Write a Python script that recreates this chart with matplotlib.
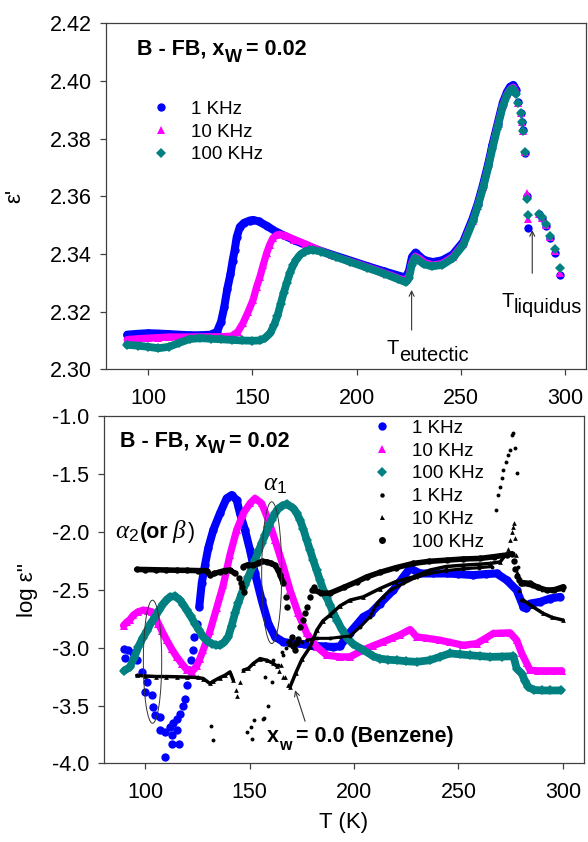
import matplotlib
matplotlib.use('Agg')
import matplotlib.pyplot as plt
from matplotlib.lines import Line2D
from matplotlib.patches import Ellipse
from matplotlib.transforms import IdentityTransform
from matplotlib.ticker import FormatStrFormatter

plt.rcParams['font.family'] = ['Liberation Sans', 'DejaVu Sans']
plt.rcParams['axes.unicode_minus'] = False
plt.rcParams['mathtext.fontset'] = 'custom'
plt.rcParams['mathtext.rm'] = 'Liberation Sans'
plt.rcParams['mathtext.it'] = 'Liberation Serif:italic'
plt.rcParams['mathtext.bf'] = 'Liberation Sans:bold'

BLUE, MAGENTA, TEAL, BLACK = '#0000FF', '#FF00FF', '#008080', '#000000'

# ---------------- top panel: epsilon' ----------------
top_1k_T = [90, 95, 100, 105, 110, 115, 120, 125, 130, 133, 135, 136.5, 138, 139.5, 140.5, 141.5, 142.5, 144, 146, 148.8,
            150.3, 153, 157, 161.6, 170, 179, 188, 197, 205, 213, 220, 223.3, 225, 226.5, 228.2, 230, 232.5, 236.5, 241,
            246, 251, 255.5, 258, 260.5, 263, 265, 267.5, 270, 272, 273.5, 275, 276.3]
top_1k_v = [2.3120, 2.3123, 2.3125, 2.3124, 2.3122, 2.3120, 2.3118, 2.3118, 2.3120, 2.3130, 2.3165, 2.3215, 2.3280, 2.3330,
            2.3375, 2.3413, 2.3459, 2.3494, 2.3508, 2.3516, 2.3518, 2.3513, 2.3497, 2.3476, 2.3448, 2.3420, 2.3398, 2.3377,
            2.3358, 2.3340, 2.3325, 2.3318, 2.3340, 2.3390, 2.3405, 2.3392, 2.3378, 2.3372, 2.3378, 2.3398, 2.3442, 2.3522,
            2.3575, 2.3640, 2.3712, 2.3778, 2.3852, 2.3925, 2.3962, 2.3980, 2.3986, 2.3970]
top_tail_T = [277.5, 278.6, 279.0, 279.5, 280.4, 281.5, 282.3, 287.1, 288.6, 290.7, 292.7, 295.2, 297.5]
top_1k_tail_v = [2.3927, 2.3890, 2.3858, 2.3829, 2.3750, 2.3600, 2.3489, 2.3540, 2.3525, 2.3498, 2.3455, 2.3405, 2.3326]

top_10k_T = [90, 95, 100, 105, 110, 115, 120, 125, 130, 135, 140, 143, 145.5, 148, 150.3, 152, 153.6, 155.2, 156.8, 158.3,
             159.8, 161.5, 163, 166, 170, 175, 180, 188, 197, 205, 213, 220, 223.4, 225, 226.4, 228, 230, 232.5, 236.5,
             241, 246, 251, 255.5, 258, 260.5, 263, 265, 267.5, 270, 272, 273.5, 275, 276.3]
top_10k_v = [2.3103, 2.3106, 2.3108, 2.3110, 2.3112, 2.3112, 2.3112, 2.3113, 2.3113, 2.3113, 2.3115, 2.3130, 2.3160, 2.3200,
             2.3240, 2.3285, 2.3320, 2.3362, 2.3402, 2.3432, 2.3455, 2.3465, 2.3468, 2.3463, 2.3450, 2.3436, 2.3420, 2.3395,
             2.3374, 2.3355, 2.3335, 2.3316, 2.3308, 2.3325, 2.3370, 2.3392, 2.3385, 2.3370, 2.3362, 2.3367, 2.3390, 2.3435,
             2.3514, 2.3568, 2.3632, 2.3704, 2.3770, 2.3845, 2.3917, 2.3955, 2.3972, 2.3978, 2.3962]
top_10k_tail_v = [2.3925, 2.3888, 2.3856, 2.3827, 2.3752, 2.3612, 2.3520, 2.3540, 2.3526, 2.3500, 2.3458, 2.3410, 2.3335]

top_100k_T = [90, 95, 100, 105, 110, 115, 120, 125, 130, 135, 140, 145, 150, 153.5, 156, 158.5, 160.5, 162, 163.5, 165,
              166.5, 168, 169.5, 171, 173, 175, 177, 179, 183, 190, 197, 205, 213, 220, 223.5, 225, 226.3, 227.8, 229.5,
              232, 236, 241, 246, 251, 255.5, 258, 260.5, 263, 265, 267.5, 270, 272, 273.5, 275, 276.3]
top_100k_v = [2.3085, 2.3082, 2.3078, 2.3073, 2.3078, 2.3092, 2.3105, 2.3108, 2.3106, 2.3104, 2.3102, 2.3100, 2.3099,
              2.3100, 2.3108, 2.3125, 2.3155, 2.3185, 2.3225, 2.3265, 2.3300, 2.3335, 2.3360, 2.3380, 2.3398, 2.3408,
              2.3413, 2.3414, 2.3408, 2.3390, 2.3372, 2.3352, 2.3332, 2.3312, 2.3302, 2.3315, 2.3360, 2.3385, 2.3380,
              2.3365, 2.3357, 2.3362, 2.3385, 2.3430, 2.3510, 2.3565, 2.3628, 2.3700, 2.3765, 2.3840, 2.3912, 2.3950,
              2.3968, 2.3972, 2.3955]
top_100k_tail_v = [2.3925, 2.3888, 2.3856, 2.3827, 2.3753, 2.3590, 2.3534, 2.3540, 2.3528, 2.3503, 2.3462, 2.3418, 2.3352]

# ---------------- bottom panel: log epsilon'' ----------------
bot_1k_sp_T = [89.7, 90.2, 91.8, 94.2, 95.8, 98.2, 99.8, 100.6, 103.0, 103.8, 104.6, 107.0, 107.0, 109.4, 109.4, 111.8,
               112.6, 112.9, 113.4, 115.0, 115.0, 116.1, 116.6, 117.9, 119.0, 119.8, 121.0, 121.7, 122.6, 123.3, 124.6]
bot_1k_sp_v = [-3.008, -3.086, -3.020, -3.046, -3.110, -3.210, -3.383, -3.296, -3.410, -3.510, -3.584, -3.600, -3.714,
               -3.730, -3.946, -3.685, -3.757, -3.835, -3.650, -3.714, -3.613, -3.835, -3.570, -3.506, -3.440, -3.325,
               -3.195, -3.109, -3.022, -2.907, -2.792]
bot_1k_T = [125.8, 127.0, 128.5, 130.1, 132.5, 135.7, 138.9, 141.3, 143.7, 145.3, 147.7, 150.1, 152.5, 155.7, 158.9,
            162.1, 166.1, 170.9, 176.0, 181.0, 186.0, 190.0, 193.2, 198.0, 204.4, 208.0, 212.4, 218.8, 223.6, 226.8,
            231.6, 238.0, 244.3, 250.0, 257.1, 263.0, 268.3, 273.1, 277.9, 281.1, 282.5, 284.3, 289.1, 293.9, 298.7]
bot_1k_v = [-2.648, -2.440, -2.290, -2.140, -1.985, -1.841, -1.711, -1.683, -1.726, -1.841, -1.985, -2.158, -2.360,
            -2.590, -2.792, -2.907, -2.951, -2.965, -2.970, -2.985, -2.990, -2.994, -2.990, -2.870, -2.735, -2.700,
            -2.620, -2.504, -2.389, -2.315, -2.360, -2.360, -2.360, -2.365, -2.374, -2.365, -2.360, -2.417, -2.504,
            -2.648, -2.662, -2.620, -2.605, -2.576, -2.562]

bot_10k_T = [89.5, 91.0, 92.5, 94.2, 96.5, 99.0, 101.0, 103.0, 104.5, 106.2, 108.0, 110.2, 112.5, 115.0, 117.5, 119.8,
             122.2, 124.5, 126.0, 127.7, 130.9, 134.1, 137.3, 140.5, 143.7, 146.9, 150.1, 152.5, 155.7, 158.9, 162.1,
             166.1, 169.3, 173.2, 177.3, 182.1, 186.9, 193.2, 198.0, 204.4, 209.0, 214.0, 218.0, 222.0, 226.8, 230.0,
             235.0, 241.1, 246.0, 252.3, 258.7, 262.5, 266.7, 270.5, 274.7, 277.9, 280.3, 282.7, 284.3, 288.0, 292.0,
             296.0, 299.5]
bot_10k_v = [-2.810, -2.780, -2.760, -2.720, -2.690, -2.677, -2.680, -2.691, -2.730, -2.792, -2.860, -2.936, -3.010,
             -3.080, -3.140, -3.190, -3.210, -3.160, -3.100, -3.020, -2.860, -2.660, -2.460, -2.200, -1.985, -1.841,
             -1.755, -1.711, -1.755, -1.899, -2.072, -2.302, -2.504, -2.705, -2.878, -2.994, -3.066, -3.080, -3.080,
             -3.020, -2.985, -2.950, -2.920, -2.890, -2.844, -2.907, -2.920, -2.936, -2.955, -2.980, -2.965, -2.925,
             -2.878, -2.875, -2.872, -2.936, -3.050, -3.137, -3.195, -3.200, -3.200, -3.200, -3.200]

bot_100k_T = [89.8, 92.6, 94.5, 96.6, 98.6, 100.6, 102.6, 104.6, 106.6, 108.6, 110.2, 111.8, 114.2, 116.6, 118.2, 119.8,
              121.7, 123.7, 125.7, 127.7, 129.7, 131.7, 133.7, 135.7, 137.7, 139.7, 141.3, 142.9, 144.5, 146.1, 147.7,
              149.3, 150.9, 152.5, 154.1, 155.7, 157.3, 158.9, 160.5, 162.1, 163.7, 165.3, 167.7, 170.9, 172.5, 174.1,
              175.7, 177.3, 178.9, 180.4, 182.0, 183.6, 185.2, 186.9, 188.4, 190.0, 192.0, 194.0, 196.8, 199.6, 204.4,
              209.2, 212.4, 216.4, 220.4, 225.0, 230.0, 236.3, 241.0, 245.9, 250.7, 255.5, 260.3, 265.1, 270.7, 276.3,
              277.9, 280.3, 281.9, 283.5, 286.0, 290.0, 294.0, 299.0]
bot_100k_v = [-3.200, -3.167, -3.090, -2.994, -2.920, -2.860, -2.790, -2.735, -2.675, -2.620, -2.585, -2.562, -2.556,
              -2.590, -2.630, -2.677, -2.730, -2.792, -2.850, -2.907, -2.945, -2.965, -2.978, -2.980, -2.955, -2.907,
              -2.810, -2.705, -2.615, -2.533, -2.460, -2.389, -2.315, -2.245, -2.170, -2.100, -2.030, -1.957, -1.895,
              -1.841, -1.800, -1.778, -1.760, -1.798, -1.840, -1.899, -1.980, -2.072, -2.160, -2.245, -2.330, -2.417,
              -2.500, -2.570, -2.630, -2.700, -2.770, -2.840, -2.920, -2.970, -3.020, -3.075, -3.095, -3.105, -3.109,
              -3.118, -3.123, -3.109, -3.080, -3.050, -3.058, -3.066, -3.073, -3.080, -3.078, -3.074, -3.181, -3.224,
              -3.290, -3.340, -3.365, -3.370, -3.370, -3.370]

# benzene (x_w = 0.0), 100 KHz: big black dots
bz_100k_T1 = [95.8, 100, 105, 110, 115, 120, 125, 129.4, 131.0, 133.0, 135.7, 138.0, 140.5, 142.9]
bz_100k_v1 = [-2.325, -2.326, -2.328, -2.330, -2.332, -2.333, -2.335, -2.336, -2.375, -2.360, -2.346, -2.335, -2.330, -2.360]
bz_100k_T2 = [146.9, 149.0, 151.7, 154.0, 156.0, 158.1, 160.0, 162.1, 163.5, 164.5, 166.1]
bz_100k_v2 = [-2.300, -2.285, -2.290, -2.270, -2.255, -2.260, -2.270, -2.290, -2.330, -2.370, -2.446]
bz_100k_T3 = [181.0, 184.0, 188.4, 195.0, 201.2, 206.0, 212.4, 220.0, 228.4, 236.0, 244.3, 252.0, 260.3, 267.0, 273.1, 275.5]
bz_100k_v3 = [-2.50, -2.53, -2.53, -2.48, -2.432, -2.39, -2.35, -2.31, -2.273, -2.255, -2.245, -2.235, -2.23, -2.215, -2.20, -2.19]
bz_100k_T4 = [281.0, 284.3, 288.0, 292.3, 296.0, 300.2]
bz_100k_v4 = [-2.44, -2.446, -2.48, -2.504, -2.50, -2.475]
bz_100k_sp_T = [144.8, 145.6, 146.4, 147.2, 167.2, 168.0, 169.0, 170.1, 170.9, 171.6, 172.3, 173.0, 174.2, 175.4, 176.6,
                177.6, 178.8, 179.8, 180.6, 276.5, 277.3, 278.0, 279.0, 280.0]
bz_100k_sp_v = [-2.40, -2.44, -2.48, -2.52, -2.560, -2.650, -2.950, -2.910, -2.990, -3.020, -2.960, -2.930, -2.820, -2.760,
                -2.700, -2.650, -2.560, -2.500, -2.480, -2.25, -2.32, -2.38, -2.42, -2.44]

# benzene, 1 KHz: small black dots
bz_1k_T1 = [177.3, 182.0, 188.4, 193.0, 198.0, 203.0, 207.6, 210.8, 214.0, 217.2, 223.6, 230.0, 236.0, 244.0, 252.0, 260.0, 266.0]
bz_1k_v1 = [-2.936, -2.920, -2.920, -2.910, -2.900, -2.820, -2.735, -2.620, -2.560, -2.504, -2.446, -2.390, -2.360,
            -2.335, -2.320, -2.310, -2.300]
bz_1k_T2 = [280.0, 285.0, 290.0, 295.0, 300.0]
bz_1k_v2 = [-2.45, -2.47, -2.50, -2.51, -2.50]
bz_1k_sp_T = [131.5, 132.2, 148.5, 150.4, 150.9, 151.8, 156.3, 156.9, 158.9, 157.3, 160.5, 161.3, 163.5, 165.3, 166.1,
              167.5, 169.0, 171.0, 173.0, 175.0, 267.8, 269.1, 269.9, 270.7, 271.5, 272.6, 273.9, 274.7, 275.5, 276.3,
              277.3, 277.9, 278.6, 279.2]
bz_1k_sp_v = [-3.675, -3.800, -3.733, -3.685, -3.790, -3.625, -3.617, -3.610, -3.500, -3.250, -3.300, -3.110, -3.150,
              -3.040, -3.060, -3.000, -2.980, -2.990, -2.960, -2.955, -1.812, -1.683, -1.611, -1.539, -1.467, -1.395,
              -1.337, -1.294, -1.164, -1.150, -1.280, -1.495, -2.300, -2.400]

# benzene, 10 KHz: small black triangles
bz_10k_T1 = [95.8, 100, 105, 110, 115, 120, 125, 127.7, 130.9, 132.5, 135.7, 138.0, 140.5, 142.1]
bz_10k_v1 = [-3.240, -3.245, -3.250, -3.250, -3.252, -3.255, -3.258, -3.267, -3.310, -3.290, -3.259, -3.240, -3.210, -3.282]
bz_10k_T2 = [146.9, 149.3, 151.7, 154.9, 158.1, 161.3, 163.0]
bz_10k_v2 = [-3.195, -3.180, -3.137, -3.095, -3.109, -3.137, -3.160]
bz_10k_T3 = [169.3, 172.0, 175.0, 178.9, 182.1, 185.0, 188.4, 193.2, 198.0, 204.4, 212.4, 220.0, 228.4, 236.4, 244.0,
             252.3, 260.0, 265.1, 270.0, 272.5]
bz_10k_v3 = [-3.340, -3.220, -3.100, -2.994, -2.850, -2.770, -2.720, -2.640, -2.590, -2.562, -2.490, -2.430, -2.389,
             -2.330, -2.300, -2.288, -2.280, -2.273, -2.260, -2.200]
bz_10k_T4 = [281.1, 285.0, 290.6, 295.0, 300.2]
bz_10k_v4 = [-2.590, -2.640, -2.705, -2.740, -2.763]
bz_10k_sp_T = [143.5, 144.0, 145.5, 164.0, 165.0, 166.0, 166.9, 168.5, 273.5, 274.7, 275.5, 276.0, 276.6, 277.0, 277.6,
               278.2, 279.0, 280.0]
bz_10k_sp_v = [-3.368, -3.420, -3.300, -3.200, -3.150, -3.250, -3.253, -3.325, -2.150, -2.072, -2.000, -1.957, -1.928,
               -2.050, -2.200, -2.350, -2.500, -2.580]

legend_labels = ['1 KHz', '10 KHz', '100 KHz']
x_ticks = [100, 150, 200, 250, 300]
top_y_ticks = [2.30, 2.32, 2.34, 2.36, 2.38, 2.40, 2.42]
bot_y_ticks = [-4.0, -3.5, -3.0, -2.5, -2.0, -1.5, -1.0]

# annotation anchors (data coords)
ell_beta = (103.4, -3.122, 8.8, 1.063)
ell_alpha1 = (160.5, -2.353, 9.6, 1.224)
arrow_eut = ((226.3, 2.3275), (226.3, 2.3136))
arrow_liq = ((284.1, 2.3483), (284.1, 2.3333))
arrow_bz = ((171.7, -3.368), (176.5, -3.636))

W, H = 588, 842
fig = plt.figure(figsize=(W / 100, H / 100), dpi=100)
ax1 = fig.add_axes([106.3 / W, 1 - 369.3 / H, 480 / W, 346 / H])
ax2 = fig.add_axes([103.7 / W, 1 - 763.4 / H, 480 / W, 347.4 / H])

STY = {
    'b': dict(color=BLUE, marker='o', ms=6.0, lw=5.8),
    'm': dict(color=MAGENTA, marker='^', ms=6.3, lw=5.2),
    't': dict(color=TEAL, marker='D', ms=5.6, lw=5.6),
    'k1': dict(color=BLACK, marker='o', ms=2.8, lw=2.2),
    'k10': dict(color=BLACK, marker='^', ms=3.4, lw=2.5),
    'k100': dict(color=BLACK, marker='o', ms=4.6, lw=4.0),
}


def dense(ax, T, v, key):
    s = STY[key]
    ax.plot(T, v, color=s['color'], lw=s['lw'], marker=s['marker'], ms=s['ms'], mew=0,
            solid_capstyle='round', solid_joinstyle='round')


def sparse(ax, T, v, key):
    s = STY[key]
    ax.plot(T, v, color=s['color'], ls='none', marker=s['marker'], ms=s['ms'], mew=0)


# top
dense(ax1, top_1k_T, top_1k_v, 'b'); sparse(ax1, top_tail_T, top_1k_tail_v, 'b')
dense(ax1, top_10k_T, top_10k_v, 'm'); sparse(ax1, top_tail_T, top_10k_tail_v, 'm')
dense(ax1, top_100k_T, top_100k_v, 't'); sparse(ax1, top_tail_T, top_100k_tail_v, 't')

# bottom
sparse(ax2, bot_1k_sp_T, bot_1k_sp_v, 'b'); dense(ax2, bot_1k_T, bot_1k_v, 'b')
dense(ax2, bot_10k_T, bot_10k_v, 'm')
dense(ax2, bot_100k_T, bot_100k_v, 't')
for T, v in [(bz_1k_T1, bz_1k_v1), (bz_1k_T2, bz_1k_v2)]:
    dense(ax2, T, v, 'k1')
sparse(ax2, bz_1k_sp_T, bz_1k_sp_v, 'k1')
for T, v in [(bz_10k_T1, bz_10k_v1), (bz_10k_T2, bz_10k_v2), (bz_10k_T3, bz_10k_v3), (bz_10k_T4, bz_10k_v4)]:
    dense(ax2, T, v, 'k10')
sparse(ax2, bz_10k_sp_T, bz_10k_sp_v, 'k10')
for T, v in [(bz_100k_T1, bz_100k_v1), (bz_100k_T2, bz_100k_v2), (bz_100k_T3, bz_100k_v3), (bz_100k_T4, bz_100k_v4)]:
    dense(ax2, T, v, 'k100')
sparse(ax2, bz_100k_sp_T, bz_100k_sp_v, 'k100')

for e in (ell_beta, ell_alpha1):
    ax2.add_patch(Ellipse((e[0], e[1]), e[2], e[3], fill=False, lw=0.7, ec='#333333', zorder=5))

aprops = dict(arrowstyle='->', lw=0.8, color='#333333', shrinkA=0, shrinkB=0, mutation_scale=9)
ax1.annotate('', xy=arrow_eut[0], xytext=arrow_eut[1], arrowprops=aprops)
ax1.annotate('', xy=arrow_liq[0], xytext=arrow_liq[1], arrowprops=aprops)
ax2.annotate('', xy=arrow_bz[0], xytext=arrow_bz[1], arrowprops=aprops)

for ax, yt, fmt, ylim in [(ax1, top_y_ticks, '%.2f', (2.30, 2.42)), (ax2, bot_y_ticks, '%.1f', (-4.0, -1.0))]:
    ax.set_xlim(80, 310)
    ax.set_ylim(*ylim)
    ax.set_xticks(x_ticks)
    ax.set_yticks(yt)
    ax.yaxis.set_major_formatter(FormatStrFormatter(fmt))
    ax.tick_params(direction='out', length=4.3, width=0.9, color='#404040', labelsize=15.5, pad=6)
    ax.tick_params(axis='x', pad=9)
    for sp in ax.spines.values():
        sp.set_color('#404040')
        sp.set_linewidth(0.9)

# legends
def handle(key, ms=None):
    s = STY[key]
    return Line2D([], [], ls='none', color=s['color'], marker=s['marker'], ms=ms or s['ms'], mew=0)

leg_kw = dict(loc='upper left', frameon=False, fontsize=13.5, handlelength=1.0, handletextpad=1.1,
              labelspacing=0.30, borderpad=0, borderaxespad=0)
ax1.legend([handle('b'), handle('m'), handle('t')], legend_labels,
           bbox_to_anchor=((151.6 - 106.3) / 480, (369.3 - 100.8) / 346), **leg_kw)
ax2.legend([handle('b'), handle('m'), handle('t'), handle('k1', 3.2), handle('k10', 3.6), handle('k100', 5)],
           legend_labels * 2, bbox_to_anchor=((372.3 - 103.7) / 480, (763.4 - 419.8) / 347.4), **leg_kw)

# free text
renderer = fig.canvas.get_renderer()


def pieces(x_px, y_px, items):
    x = x_px
    for s, size, weight, dy, gap in items:
        t = fig.text(x, H - (y_px + dy), s, fontsize=size, fontweight=weight, transform=IdentityTransform(),
                     ha='left', va='baseline')
        x = t.get_window_extent(renderer).x1 + gap


title = [('B - FB, x', 15.5, 'bold', 0, 0.5), ('W', 13.0, 'bold', 6.5, 4.5), ('= 0.02', 15.5, 'bold', 0, 0)]
pieces(136.7, 55, title)
pieces(120, 446.7, title)
pieces(386.7, 354, [('T', 14.5, 'normal', 0, 0), ('eutectic', 14.5, 'normal', 6.7, 0)])
pieces(501.7, 306.7, [('T', 14.5, 'normal', 0, 0), ('liquidus', 14.5, 'normal', 6.6, 0)])
pieces(266.7, 741.7, [('x', 15.5, 'bold', 0, 0), ('w', 11.5, 'bold', 8, 4.5), ('= 0.0 (Benzene)', 15.5, 'bold', 0, 0)])
pieces(263, 490, [(r'$\alpha_1$', 18, 'normal', 0, 0)])
pieces(115, 538.3, [(r'$\alpha_2$', 18, 'normal', 0, 0.5), ('(or', 15.5, 'bold', 0, 4), (r'$\beta$', 18, 'normal', 0, 0.5),
                    (')', 15.5, 'normal', 0, 0)])

fig.text(20, H - 196.3, "ε'", rotation=90, rotation_mode='anchor', ha='center', va='baseline', fontsize=16,
         transform=IdentityTransform())
fig.text(33, H - 589.7, "log ε''", rotation=90, rotation_mode='anchor', ha='center', va='baseline', fontsize=16,
         transform=IdentityTransform())
fig.text(344, H - 828, 'T (K)', ha='center', va='baseline', fontsize=16, transform=IdentityTransform())

fig.savefig('out.png', dpi=100)
